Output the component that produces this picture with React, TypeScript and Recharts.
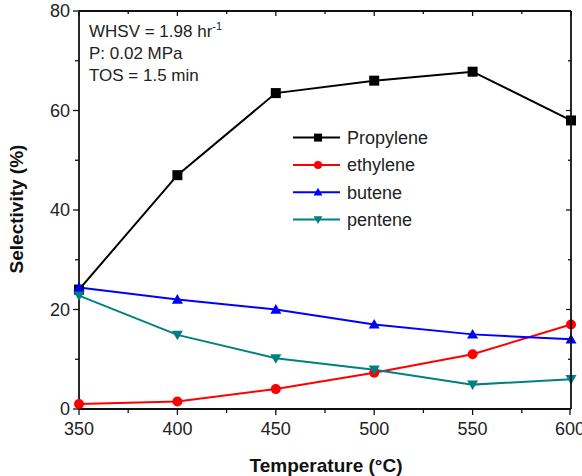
import { Customized, Line, LineChart, XAxis, YAxis } from "recharts";

const temperatures = [350, 400, 450, 500, 550, 600];
const propylene = [24, 47, 63.5, 66, 67.8, 58];
const ethylene = [1, 1.5, 4, 7.3, 11, 17];
const butene = [24.4, 22, 20, 17, 15, 14];
const pentene = [22.8, 14.9, 10.2, 7.9, 4.9, 6];

const xTicks = [350, 375, 400, 425, 450, 475, 500, 525, 550, 575, 600];
const yTicks = [0, 10, 20, 30, 40, 50, 60, 70, 80];

const seriesNames = ["Propylene", "ethylene", "butene", "pentene"];
const seriesKeys = ["propylene", "ethylene", "butene", "pentene"];
const seriesColors = ["#000000", "#ff0000", "#0000ff", "#008080"];
const seriesShapes = ["square", "circle", "up", "down"];

const data = temperatures.map((t, i) => ({
  t,
  propylene: propylene[i],
  ethylene: ethylene[i],
  butene: butene[i],
  pentene: pentene[i],
}));

const FONT = "'Liberation Sans', Arial, sans-serif";
const AXIS = "#111";
const X_MIN = 350;
const X_MAX = 600;
const Y_MIN = 0;
const Y_MAX = 80;

// plot box, follows from the chart margins and axis sizes below
const W = 582;
const H = 476;
const M_TOP = 11;
const M_RIGHT = 11;
const Y_AXIS_W = 79;
const X_AXIS_H = 67;

function Marker({ shape, cx, cy, color, s }: any) {
  if (shape === "square")
    return <rect x={cx - s} y={cy - s} width={s * 2} height={s * 2} fill={color} />;
  if (shape === "circle") return <circle cx={cx} cy={cy} r={s} fill={color} />;
  const h = s * 1.1;
  if (shape === "up")
    return (
      <polygon
        points={`${cx},${cy - h} ${cx - s * 1.1},${cy + h * 0.75} ${cx + s * 1.1},${cy + h * 0.75}`}
        fill={color}
      />
    );
  return (
    <polygon
      points={`${cx},${cy + h} ${cx - s * 1.1},${cy - h * 0.75} ${cx + s * 1.1},${cy - h * 0.75}`}
      fill={color}
    />
  );
}

const dotFor = (i: number) => (p: any) =>
  <Marker key={p.index} shape={seriesShapes[i]} cx={p.cx} cy={p.cy} color={seriesColors[i]} s={5} />;

function BottomTick({ x, y, payload }: any) {
  const major = payload.value % 50 === 0;
  return (
    <g>
      <line x1={x} x2={x} y1={y} y2={y + (major ? 6 : 4)} stroke={AXIS} strokeWidth={1.3} />
      {major && (
        <text x={x} y={y + 26} textAnchor="middle" fontSize={18} fontFamily={FONT} fill="#222">
          {payload.value}
        </text>
      )}
    </g>
  );
}

function LeftTick({ x, y, payload }: any) {
  const major = payload.value % 20 === 0;
  return (
    <g>
      <line x1={x - (major ? 6 : 4)} x2={x} y1={y} y2={y} stroke={AXIS} strokeWidth={1.3} />
      {major && (
        <text x={x - 9} y={y} dy="0.36em" textAnchor="end" fontSize={18} fontFamily={FONT} fill="#222">
          {payload.value}
        </text>
      )}
    </g>
  );
}

// top and right edges of the box with inward ticks (drawn over the chart)
function FrameOverlay() {
  const x0 = Y_AXIS_W;
  const y0 = M_TOP;
  const w = W - Y_AXIS_W - M_RIGHT;
  const h = H - M_TOP - X_AXIS_H;
  const px = (v: number) => x0 + ((v - X_MIN) / (X_MAX - X_MIN)) * w;
  const py = (v: number) => y0 + h - ((v - Y_MIN) / (Y_MAX - Y_MIN)) * h;
  return (
    <svg
      width={W}
      height={H}
      style={{ position: "absolute", left: 0, top: 0, pointerEvents: "none" }}
    >
      <line x1={x0} x2={x0 + w} y1={y0} y2={y0} stroke={AXIS} strokeWidth={1.8} />
      <line x1={x0 + w} x2={x0 + w} y1={y0} y2={y0 + h} stroke={AXIS} strokeWidth={1.8} />
      {xTicks.map((v) => (
        <line
          key={"t" + v}
          x1={px(v)}
          x2={px(v)}
          y1={y0}
          y2={y0 + (v % 50 === 0 ? 5 : 3)}
          stroke={AXIS}
          strokeWidth={1.3}
        />
      ))}
      {yTicks.map((v) => (
        <line
          key={"r" + v}
          x1={x0 + w - (v % 20 === 0 ? 5 : 3)}
          x2={x0 + w}
          y1={py(v)}
          y2={py(v)}
          stroke={AXIS}
          strokeWidth={1.3}
        />
      ))}
    </svg>
  );
}

function Annotations() {
  return (
    <g fontFamily={FONT} fill="#222">
      <text x={89} y={37} fontSize={17}>
        WHSV = 1.98 hr
        <tspan dy={-7} fontSize={11}>-1</tspan>
      </text>
      <text x={89} y={59} fontSize={17}>P: 0.02 MPa</text>
      <text x={89} y={81} fontSize={17}>TOS = 1.5 min</text>
      <text x={326} y={472} textAnchor="middle" fontSize={19} fontWeight="bold" fill="#111">
        Temperature (°C)
      </text>
      <text
        x={23}
        y={209}
        transform="rotate(-90 23 209)"
        textAnchor="middle"
        fontSize={19}
        fontWeight="bold"
        fill="#111"
      >
        Selectivity (%)
      </text>
      {seriesNames.map((name, i) => {
        const cy = 137.6 + i * 27.3;
        return (
          <g key={name}>
            <line x1={293} x2={340} y1={cy} y2={cy} stroke={seriesColors[i]} strokeWidth={2} />
            <Marker shape={seriesShapes[i]} cx={318} cy={cy} color={seriesColors[i]} s={4} />
            <text x={347} y={cy} dy="0.36em" fontSize={18}>
              {name}
            </text>
          </g>
        );
      })}
    </g>
  );
}

export default function App() {
  return (
    <div style={{ position: "relative", width: W, height: H, background: "#fff" }}>
      <style>{"body{margin:0}"}</style>
      <LineChart width={W} height={H} data={data} margin={{ top: M_TOP, right: M_RIGHT, left: 0, bottom: 0 }}>
        <XAxis
          dataKey="t"
          type="number"
          domain={[X_MIN, X_MAX]}
          ticks={xTicks}
          height={X_AXIS_H}
          tickSize={0}
          tickMargin={0}
          tick={<BottomTick />}
          axisLine={{ stroke: AXIS, strokeWidth: 1.8 }}
        />
        <YAxis
          type="number"
          domain={[Y_MIN, Y_MAX]}
          ticks={yTicks}
          width={Y_AXIS_W}
          tickSize={0}
          tickMargin={0}
          tick={<LeftTick />}
          axisLine={{ stroke: AXIS, strokeWidth: 1.8 }}
        />
        {seriesKeys.map((key, i) => (
          <Line
            key={key}
            type="linear"
            dataKey={key}
            name={seriesNames[i]}
            stroke={seriesColors[i]}
            strokeWidth={2}
            dot={dotFor(i)}
            activeDot={false}
            isAnimationActive={false}
          />
        ))}
        <Customized component={<Annotations />} />
      </LineChart>
      <FrameOverlay />
    </div>
  );
}
